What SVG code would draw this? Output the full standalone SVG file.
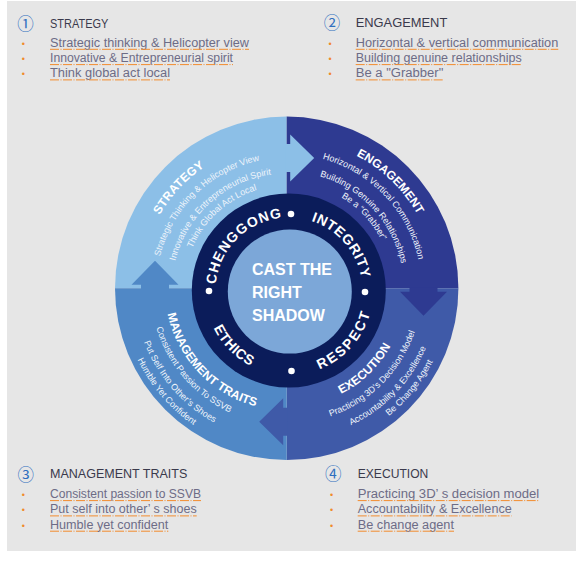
<svg xmlns="http://www.w3.org/2000/svg" width="584" height="564" viewBox="0 0 584 564">
<style>
.hdr{font-family:"Liberation Sans",Arial,sans-serif;font-size:13.5px;fill:#3a3a4c}
.item{font-family:"Liberation Sans",Arial,sans-serif;font-size:12px;fill:#6d6c86}
.bul{font-family:"Liberation Sans",Arial,sans-serif;font-size:9px;fill:#f08a2c;text-anchor:middle}
.ul{stroke:#f28c2e;stroke-width:1;stroke-dasharray:9 1.5 1 1.5;fill:none}
.num{font-family:"Noto Sans CJK SC","DejaVu Sans",sans-serif;font-size:16.5px;fill:#2f6fbf;text-anchor:middle}
.rt{font-family:"Liberation Sans",Arial,sans-serif;font-weight:bold;font-size:14px;fill:#fff}
.oh{font-family:"Liberation Sans",Arial,sans-serif;font-weight:bold;font-size:12px;fill:#fff}
.os{font-family:"Liberation Sans",Arial,sans-serif;font-size:9px;fill:#eef4fb}
.ctr{font-family:"Liberation Sans",Arial,sans-serif;font-weight:bold;font-size:16px;fill:#fff}
</style>
<defs>
<path id="arrow" d="M-14,1 L-14,-3.5 L-23.5,-3.5 L0,-27.5 L23.5,-3.5 L14,-3.5 L14,1 Z"/>
<!-- ring text arcs -->
<path id="pCheng" d="M218.0,310.0 A73.5,73.5 0 0 1 308.0,220.0"/>
<path id="pInteg" d="M275.0,218.9 A73.5,73.5 0 0 1 358.5,314.9"/>
<path id="pResp" d="M272.3,373.3 A84,84 0 0 0 368.7,264.3"/>
<path id="pEthic" d="M208.0,268.8 A84,84 0 0 0 310.3,372.3"/>
<!-- strategy -->
<path id="sH" d="M146.4,331.5 A147,147 0 0 1 320.1,145.3"/>
<path id="s1" d="M159.9,320.2 A131,131 0 0 1 323.1,162.6"/>
<path id="s2" d="M174.5,312.4 A115,115 0 0 1 322.5,179.1"/>
<path id="s3" d="M186.3,309.9 A103,103 0 0 1 318.8,190.5"/>
<!-- engagement -->
<path id="eH" d="M245.7,144.3 A150,150 0 0 1 432.5,324.8"/>
<path id="e1" d="M255.6,157.7 A134.5,134.5 0 0 1 416.0,326.7"/>
<path id="e2" d="M260.7,174.5 A117,117 0 0 1 398.9,322.7"/>
<path id="e3" d="M263.1,185.2 A106,106 0 0 1 388.4,319.5"/>
<!-- management -->
<path id="mH" d="M170.0,253.9 A122,122 0 0 0 315.5,407.1"/>
<path id="m1" d="M157.9,244.1 A136.5,136.5 0 0 0 313.0,422.5"/>
<path id="m2" d="M142.8,238.8 A152.5,152.5 0 0 0 316.1,438.2"/>
<path id="m3" d="M131.0,233.3 A165.5,165.5 0 0 0 317.2,451.2"/>
<!-- execution -->
<path id="xH" d="M254.3,402.4 A118.5,118.5 0 0 0 402.0,259.8"/>
<path id="x1" d="M252.1,418.9 A135,135 0 0 0 417.4,253.6"/>
<path id="x2" d="M250.5,435.0 A151,151 0 0 0 432.2,246.9"/>
<path id="x3" d="M261.5,449.5 A163,163 0 0 0 439.2,230.1"/>
</defs>

<rect id="background" x="7" y="1" width="569" height="550" fill="#e6e6e6"/>

<g id="quadrant-strategy">
<path d="M286.7,288.3 L115,288.3 A171.7,171.7 0 0 1 286.7,116.6 Z" fill="#8cbfe7"/>
</g>
<g id="quadrant-engagement">
<path d="M286.7,288.3 L286.7,116.6 A171.7,171.7 0 0 1 458.4,288.3 Z" fill="#2e3a91"/>
</g>
<g id="quadrant-execution">
<path d="M286.7,288.3 L458.4,288.3 A171.7,171.7 0 0 1 286.7,460 Z" fill="#3f5aa8"/>
</g>
<g id="quadrant-management">
<path d="M286.7,288.3 L286.7,460 A171.7,171.7 0 0 1 115,288.3 Z" fill="#5088c6"/>
</g>

<g id="connectors">
<use href="#arrow" transform="translate(155,288.3)" fill="#5088c6"/>
<use href="#arrow" transform="translate(286.7,158) rotate(90)" fill="#8cbfe7"/>
<use href="#arrow" transform="translate(423.5,288.3) rotate(180)" fill="#2e3a91"/>
<use href="#arrow" transform="translate(286.7,421.7) rotate(270)" fill="#3f5aa8"/>
</g>

<g id="ring">
<circle cx="288.8" cy="290.5" r="97" fill="#0b1c5a"/>
<circle cx="365" cy="292" r="3.3" fill="#fff"/>
<circle cx="291" cy="214" r="3.3" fill="#fff"/>
<circle cx="209" cy="291" r="3.3" fill="#fff"/>
<circle cx="291.5" cy="371" r="3.3" fill="#fff"/>
<text class="rt" text-anchor="middle" letter-spacing="1"><textPath href="#pCheng" startOffset="50%">CHENGGONG</textPath></text>
<text class="rt" text-anchor="middle" letter-spacing="0.6"><textPath href="#pInteg" startOffset="50%">INTEGRITY</textPath></text>
<text class="rt" text-anchor="middle" letter-spacing="2"><textPath href="#pResp" startOffset="50%">RESPECT</textPath></text>
<text class="rt" text-anchor="middle" letter-spacing="0.5"><textPath href="#pEthic" startOffset="50%">ETHICS</textPath></text>
</g>

<g id="center">
<circle cx="289.8" cy="291.6" r="62" fill="#7ca7d8"/>
<text class="ctr" x="252" y="275">CAST THE</text>
<text class="ctr" x="252" y="298">RIGHT</text>
<text class="ctr" x="252" y="320.5">SHADOW</text>
</g>

<g id="circle-strategy">
<text class="oh" text-anchor="middle" letter-spacing="0.3"><textPath href="#sH" startOffset="50%">STRATEGY</textPath></text>
<text class="os" text-anchor="middle"><textPath href="#s1" startOffset="50%">Strategic Thinking &amp; Helicopter View</textPath></text>
<text class="os" text-anchor="middle"><textPath href="#s2" startOffset="50%">Innovative &amp; Entrepreneurial Spirit</textPath></text>
<text class="os" text-anchor="middle"><textPath href="#s3" startOffset="50%">Think Global Act Local</textPath></text>
</g>
<g id="circle-engagement">
<text class="oh" text-anchor="middle"><textPath href="#eH" startOffset="50%">ENGAGEMENT</textPath></text>
<text class="os" text-anchor="middle"><textPath href="#e1" startOffset="50%">Horizontal &amp; Vertical Communication</textPath></text>
<text class="os" text-anchor="middle"><textPath href="#e2" startOffset="50%">Building Genuine Relationships</textPath></text>
<text class="os" text-anchor="middle"><textPath href="#e3" startOffset="50%">Be a “Grabber”</textPath></text>
</g>
<g id="circle-management">
<text class="oh" text-anchor="middle"><textPath href="#mH" startOffset="50%">MANAGEMENT TRAITS</textPath></text>
<text class="os" text-anchor="middle"><textPath href="#m1" startOffset="50%">Consistent Passion To SSVB</textPath></text>
<text class="os" text-anchor="middle"><textPath href="#m2" startOffset="50%">Put Self Into Other’s Shoes</textPath></text>
<text class="os" text-anchor="middle"><textPath href="#m3" startOffset="50%">Humble Yet Confident</textPath></text>
</g>
<g id="circle-execution">
<text class="oh" text-anchor="middle"><textPath href="#xH" startOffset="50%">EXECUTION</textPath></text>
<text class="os" text-anchor="middle"><textPath href="#x1" startOffset="50%">Practicing 3D’s Decision Model</textPath></text>
<text class="os" text-anchor="middle"><textPath href="#x2" startOffset="50%">Accountability &amp; Excellence</textPath></text>
<text class="os" text-anchor="middle"><textPath href="#x3" startOffset="50%">Be Change Agent</textPath></text>
</g>

<g id="legend-strategy">
<text class="num" x="25.5" y="29.8">①</text>
<text class="hdr" x="50" y="27.5" textLength="58.3" lengthAdjust="spacingAndGlyphs">STRATEGY</text>
<text class="bul" x="23.3" y="46.7">•</text>
<text class="bul" x="23.3" y="62">•</text>
<text class="bul" x="23.3" y="77.3">•</text>
<text class="item" x="50" y="46.7" textLength="199" lengthAdjust="spacingAndGlyphs">Strategic thinking &amp; Helicopter view</text>
<text class="item" x="50" y="62" textLength="183" lengthAdjust="spacingAndGlyphs">Innovative &amp; Entrepreneurial spirit</text>
<text class="item" x="50" y="77.3" textLength="120" lengthAdjust="spacingAndGlyphs">Think global act local</text>
<path class="ul" d="M50,49.3 H249 M50,64.6 H233 M50,79.9 H170"/>
</g>
<g id="legend-engagement">
<text class="num" x="332" y="29.3">②</text>
<text class="hdr" x="355.7" y="26.7" textLength="91.6" lengthAdjust="spacingAndGlyphs">ENGAGEMENT</text>
<text class="bul" x="330" y="46.7">•</text>
<text class="bul" x="330" y="62">•</text>
<text class="bul" x="330" y="77.3">•</text>
<text class="item" x="355.7" y="46.7" textLength="202.6" lengthAdjust="spacingAndGlyphs">Horizontal &amp; vertical communication</text>
<text class="item" x="355.7" y="62" textLength="166" lengthAdjust="spacingAndGlyphs">Building genuine relationships</text>
<text class="item" x="355.7" y="77.3" textLength="87.6" lengthAdjust="spacingAndGlyphs">Be a "Grabber"</text>
<path class="ul" d="M355.7,49.3 H558.3 M355.7,64.6 H521.7 M355.7,79.9 H443.3"/>
</g>
<g id="legend-management">
<text class="num" x="25.8" y="481.3">③</text>
<text class="hdr" x="50" y="477.7" textLength="137.3" lengthAdjust="spacingAndGlyphs">MANAGEMENT TRAITS</text>
<text class="bul" x="23.3" y="498">•</text>
<text class="bul" x="23.3" y="513.3">•</text>
<text class="bul" x="23.3" y="528.7">•</text>
<text class="item" x="50" y="498" textLength="151" lengthAdjust="spacingAndGlyphs">Consistent passion to SSVB</text>
<text class="item" x="50" y="513.3" textLength="146.7" lengthAdjust="spacingAndGlyphs">Put self into other’ s shoes</text>
<text class="item" x="50" y="528.7" textLength="118.3" lengthAdjust="spacingAndGlyphs">Humble yet confident</text>
<path class="ul" d="M50,500.6 H201 M50,515.9 H196.7 M50,531.2 H168.3"/>
</g>
<g id="legend-execution">
<text class="num" x="333.3" y="480">④</text>
<text class="hdr" x="357.7" y="477.7" textLength="70.6" lengthAdjust="spacingAndGlyphs">EXECUTION</text>
<text class="bul" x="331.7" y="498">•</text>
<text class="bul" x="331.7" y="513.3">•</text>
<text class="bul" x="331.7" y="528.7">•</text>
<text class="item" x="357.7" y="498" textLength="181.6" lengthAdjust="spacingAndGlyphs">Practicing 3D’ s decision model</text>
<text class="item" x="357.7" y="513.3" textLength="154" lengthAdjust="spacingAndGlyphs">Accountability &amp; Excellence</text>
<text class="item" x="357.7" y="528.7" textLength="96.3" lengthAdjust="spacingAndGlyphs">Be change agent</text>
<path class="ul" d="M357.7,500.6 H539.3 M357.7,515.9 H511.7 M357.7,531.2 H454"/>
</g>
</svg>
